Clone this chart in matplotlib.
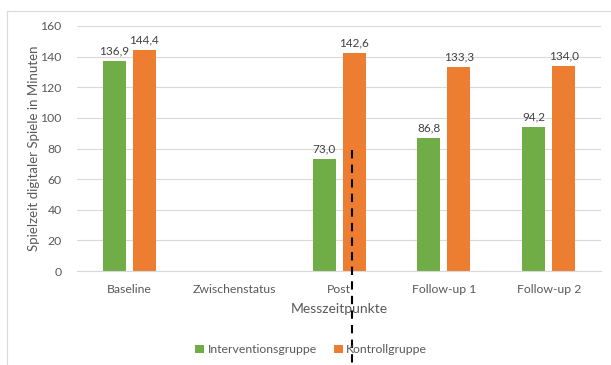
import numpy as np
import matplotlib.pyplot as plt
from matplotlib.lines import Line2D

# Daten
kategorien = ['Baseline', 'Zwischenstatus', 'Post', 'Follow-up 1', 'Follow-up 2']
intervention = [136.9, np.nan, 73.0, 86.8, 94.2]
kontrolle = [144.4, np.nan, 142.6, 133.3, 134.0]
y_ticks = [0, 20, 40, 60, 80, 100, 120, 140, 160]

gruen = '#70AD47'
orange = '#ED7D31'
grau = '#595959'

plt.rcParams['font.family'] = ['Lato', 'DejaVu Sans']

fig = plt.figure(figsize=(6.11, 3.65), dpi=100)
ax = fig.add_axes([0.126, 0.2575, 0.858, 0.6713])

x = np.arange(len(kategorien))
w = 0.22
off = 0.143
b1 = ax.bar(x - off, intervention, w, color=gruen, label='Interventionsgruppe')
b2 = ax.bar(x + off, kontrolle, w, color=orange, label='Kontrollgruppe')

for bars, vals in [(b1, intervention), (b2, kontrolle)]:
    for rect, v in zip(bars, vals):
        if np.isnan(v):
            continue
        ax.text(rect.get_x() + rect.get_width() / 2, v + 3, f'{v:.1f}'.replace('.', ','),
                ha='center', va='bottom', fontsize=8.5, color='#404040')

ax.set_xlim(-0.5, len(kategorien) - 0.5)
ax.set_ylim(0, 160)
ax.set_yticks(y_ticks)
ax.set_xticks(x)
ax.set_xticklabels(kategorien)
ax.tick_params(axis='both', length=0, labelsize=8.8, labelcolor=grau)
ax.tick_params(axis='x', pad=9)
ax.tick_params(axis='y', pad=11)
ax.grid(axis='y', color='#D9D9D9', linewidth=0.8)
ax.set_axisbelow(True)
for s in ['top', 'right', 'left']:
    ax.spines[s].set_visible(False)
ax.spines['bottom'].set_color('#D9D9D9')

ax.set_ylabel('Spielzeit digitaler Spiele in Minuten', fontsize=9.5, color=grau)
ax.yaxis.set_label_coords(-0.07, 0.5)
ax.set_xlabel('Messzeitpunkte', fontsize=10, color=grau, labelpad=6)

ax.legend(loc='upper center', bbox_to_anchor=(0.447, -0.255), ncol=2, frameon=False,
          fontsize=8.8, labelcolor=grau, handlelength=0.7, handleheight=0.7,
          handletextpad=0.3, columnspacing=1.4)

# gestrichelte Linie
ax.plot([2.12, 2.12], [79, -62], color='black', linestyle=(0, (4, 3)), linewidth=1.5,
        clip_on=False, zorder=5)

# Rahmen
fig.add_artist(Line2D([7 / 611, 7 / 611], [0, 1 - 11 / 365], color='#D9D9D9', linewidth=0.8))
fig.add_artist(Line2D([7 / 611, 1], [1 - 11 / 365, 1 - 11 / 365], color='#D9D9D9', linewidth=0.8))

fig.savefig('out.png', dpi=100)
